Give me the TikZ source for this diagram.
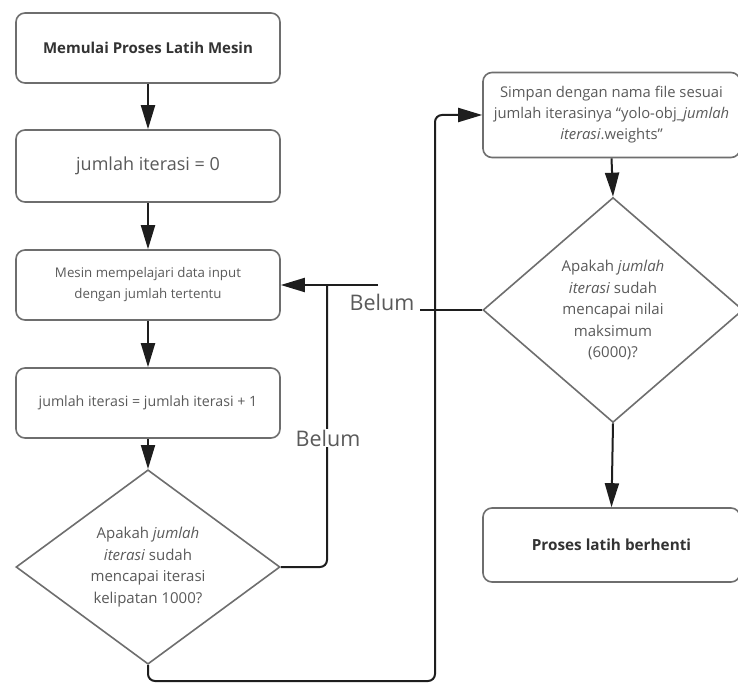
\documentclass[tikz,border=0pt]{standalone}
\usepackage{fontspec}
\setmainfont{Open Sans}
\usetikzlibrary{shapes.geometric,arrows.meta}
\definecolor{boxline}{HTML}{6E6E6E}
\definecolor{txt}{HTML}{5A5A5A}
\definecolor{btxt}{HTML}{333333}
\definecolor{conncol}{HTML}{1E1E1E}
\tikzset{
  procbox/.style={draw=boxline,line width=1.6pt,rounded corners=9pt,fill=white,
    minimum width=264pt,minimum height=70pt,inner sep=0pt,align=center,text=txt},
  decbox/.style={draw=boxline,line width=1.6pt,diamond,fill=white,inner sep=0pt,
    align=center,text=txt,font=\fontsize{15}{21.5}\selectfont},
  conn/.style={draw=conncol,line width=2pt,rounded corners=7pt},
  arr/.style={conn,-{Triangle[length=24pt,width=14pt]}},
  lbl/.style={fill=white,inner sep=1pt,text=txt,font=\fontsize{21.5}{24}\selectfont}
}
\begin{document}
\begin{tikzpicture}[x=1pt,y=-1pt]
\useasboundingbox[fill=white] (0,0) rectangle (738,684);
% left column
\node[procbox,font=\bfseries\fontsize{15}{18}\selectfont,text=btxt] (b1) at (148,48) {Memulai Proses Latih Mesin};
\node[procbox,minimum height=72pt,font=\fontsize{18}{21}\selectfont] (b2) at (148,166) {jumlah iterasi = 0};
\node[procbox,font=\fontsize{13.3}{21}\selectfont] (b3) at (148,285) {Mesin mempelajari data input\\dengan jumlah tertentu};
\node[procbox,font=\fontsize{14.2}{17}\selectfont] (b4) at (148,403) {jumlah iterasi = jumlah iterasi + 1};
\node[decbox,minimum width=264pt,minimum height=183pt] (d1) at (148,567)
  {Apakah \textit{jumlah}\\\textit{iterasi} sudah\\mencapai iterasi\\kelipatan 1000?};
% right column
\node[procbox,minimum width=257pt,minimum height=85pt,font=\fontsize{14.8}{21}\selectfont] (b5) at (611.5,115)
  {Simpan dengan nama file sesuai\\jumlah iterasinya “yolo-obj\_\textit{jumlah}\\\textit{iterasi}.weights”};
\node[decbox,minimum width=260pt,minimum height=225pt] (d2) at (613,310)
  {Apakah \textit{jumlah}\\\textit{iterasi} sudah\\mencapai nilai\\maksimum\\(6000)?};
\node[procbox,minimum width=257pt,minimum height=74pt,font=\bfseries\fontsize{15.3}{18}\selectfont,text=btxt] (b6) at (611.5,545) {Proses latih berhenti};
% coordinates
\coordinate (r1) at (327,567);
\coordinate (r2) at (327,285);
\coordinate (g1) at (420,310);
\coordinate (g2) at (378,285);
\coordinate (l1) at (148,681);
\coordinate (l2) at (435,681);
\coordinate (l3) at (435,115);
% connectors
\draw[arr] (b1.south) -- (b2.north);
\draw[arr] (b2.south) -- (b3.north);
\draw[arr] (b3.south) -- (b4.north);
\draw[arr] (b4.south) -- (d1.north);
\draw[arr] (b5.south) -- (d2.north);
\draw[arr] (d2.south) -- (b6.north);
\draw[conn] (d1.east) -- (r1) -- (r2);
\draw[conn] (d2.west) -- (g1);
\draw[arr] (g2) -- (b3.east);
\draw[arr] (d1.south) -- (l1) -- (l2) -- (l3) -- (b5.west);
% labels
\node[lbl] (lab1) at (382,302) {Belum};
\node[lbl] (lab2) at (328,438) {Belum};
\end{tikzpicture}
\end{document}
